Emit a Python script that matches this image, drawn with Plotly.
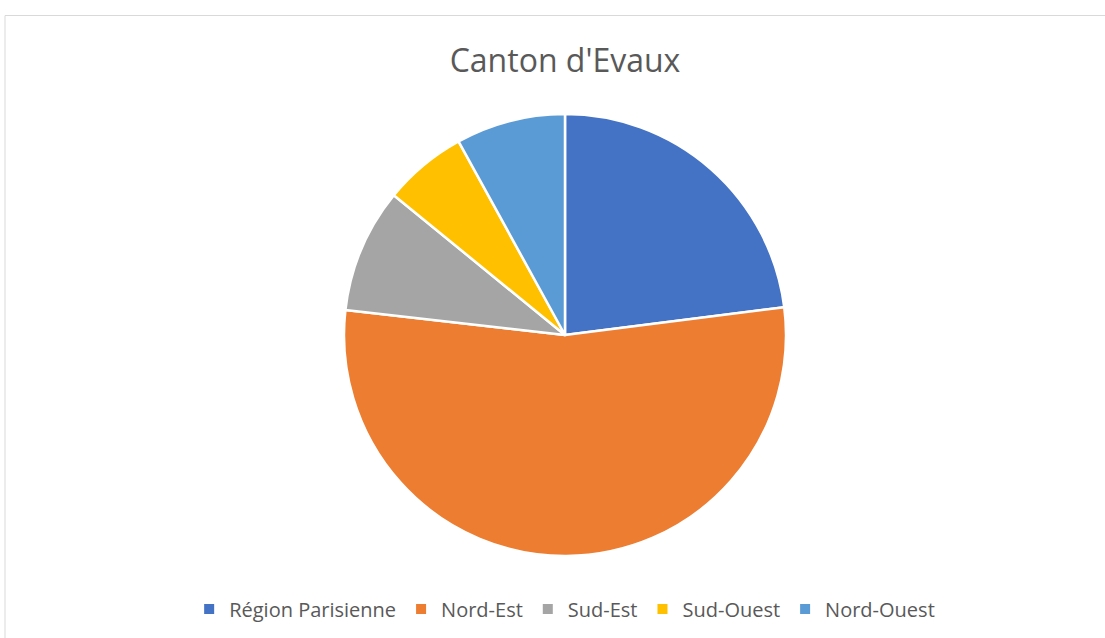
import plotly.graph_objects as go

labels = ["Région Parisienne", "Nord-Est", "Sud-Est", "Sud-Ouest", "Nord-Ouest"]
values = [23.0, 53.8, 9.1, 6.1, 8.0]
colors = ["#4472C4", "#ED7D31", "#A5A5A5", "#FFC000", "#5B9BD5"]

W, H = 1105, 638
cx, cy, r = 565, 335, 221

fig = go.Figure(go.Pie(
    labels=labels, values=values, sort=False, direction="clockwise", rotation=0,
    marker=dict(colors=colors, line=dict(color="white", width=2.5)),
    textinfo="none", hoverinfo="label+percent",
    domain=dict(x=[(cx - r) / W, (cx + r) / W], y=[(H - cy - r) / H, (H - cy + r) / H]),
))

fig.update_layout(
    width=W, height=H,
    margin=dict(l=0, r=0, t=0, b=0),
    paper_bgcolor="white",
    title=dict(text="Canton d'Evaux", x=565 / W, xanchor="center", y=1 - 61 / H, yanchor="middle",
               font=dict(family="Open Sans", size=32, color="#595959")),
    legend=dict(orientation="h", x=0.511, xanchor="center", y=1 - 609 / H, yanchor="middle",
                font=dict(family="Open Sans", size=20, color="#595959"),
                itemsizing="constant", traceorder="normal"),
    shapes=[dict(type="rect", xref="paper", yref="paper", x0=5 / W, x1=1.01, y0=-0.01, y1=1 - 15.5 / H,
                 line=dict(color="#d9d9d9", width=1), fillcolor="rgba(0,0,0,0)", layer="below")],
)

fig.write_html("out.html", config={"displayModeBar": False},
               post_script="document.body.style.margin='0';document.body.style.overflow='hidden';")
